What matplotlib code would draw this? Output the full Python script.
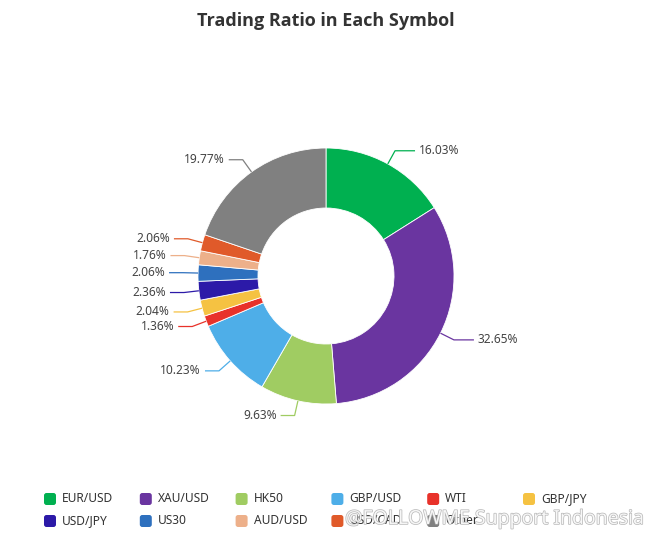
import numpy as np
import matplotlib
matplotlib.use("Agg")
import matplotlib.pyplot as plt
from matplotlib.patches import FancyBboxPatch
import matplotlib.patheffects as pe

symbols = ["EUR/USD", "XAU/USD", "HK50", "GBP/USD", "WTI", "GBP/JPY",
           "USD/JPY", "US30", "AUD/USD", "USD/CAD", "Other"]
ratios = [16.03, 32.65, 9.63, 10.23, 1.36, 2.04, 2.36, 2.06, 1.76, 2.06, 19.77]
colors = ["#00b050", "#6a35a0", "#a0cc62", "#4eaee8", "#e8322a", "#f5c242",
          "#2c1aa8", "#2e70be", "#edb08a", "#e05a2a", "#808080"]

plt.rcParams["font.family"] = ["Noto Sans", "DejaVu Sans"]

W, H = 651, 554
fig = plt.figure(figsize=(W / 100, H / 100), dpi=100)
ax = fig.add_axes([0, 0, 1, 1])

# donut, centre and radii in pixels
cx, cy = 326, 278
r_out, r_in = 128, 68
wedges, _ = ax.pie(ratios, colors=colors, radius=r_out, center=(cx, cy),
                   startangle=90, counterclock=False,
                   wedgeprops=dict(width=r_out - r_in, edgecolor="white",
                                   linewidth=0.6))
ax.set_xlim(0, W)
ax.set_ylim(0, H)
ax.set_aspect("equal")
ax.axis("off")

# leader lines + percentage labels
len1 = 15
for w, val, col in zip(wedges, ratios, colors):
    ang = np.deg2rad((w.theta1 + w.theta2) / 2)
    x0, y0 = cx + r_out * np.cos(ang), cy + r_out * np.sin(ang)
    x1, y1 = cx + (r_out + len1) * np.cos(ang), cy + (r_out + len1) * np.sin(ang)
    side = 1 if np.cos(ang) >= 0 else -1
    len2 = 20 if side > 0 else 14
    x2 = x1 + side * len2
    ax.plot([x0, x1, x2], [y0, y1, y1], color=col, lw=0.9,
            solid_capstyle="butt")
    ax.text(x2 + side * 4, y1, f"{val:.2f}%", fontsize=8.6, color="#444444",
            ha="left" if side > 0 else "right", va="center")

ax.text(W / 2, H - 21, "Trading Ratio in Each Symbol", fontsize=13,
        fontweight="bold", color="#333333", ha="center", va="center",
        family=["Open Sans", "DejaVu Sans"])

# legend, 6 per row
for i, (name, col) in enumerate(zip(symbols, colors)):
    row, c = divmod(i, 6)
    x = 44 + c * 95.8
    y = H - 499 - row * 22
    ax.add_patch(FancyBboxPatch((x, y - 6), 12, 12,
                                boxstyle="round,pad=0,rounding_size=2.5",
                                facecolor=col, edgecolor="none"))
    ax.text(x + 18, y, name, fontsize=8.6, color="#333333", va="center")

# watermark
ax.text(345, H - 519, "@FOLLOWME Support Indonesia", fontsize=14,
        color="white", alpha=0.85, va="center", ha="left",
        path_effects=[pe.withStroke(linewidth=1.0, foreground="#aaaaaa")])

fig.savefig("out.png", dpi=100)
